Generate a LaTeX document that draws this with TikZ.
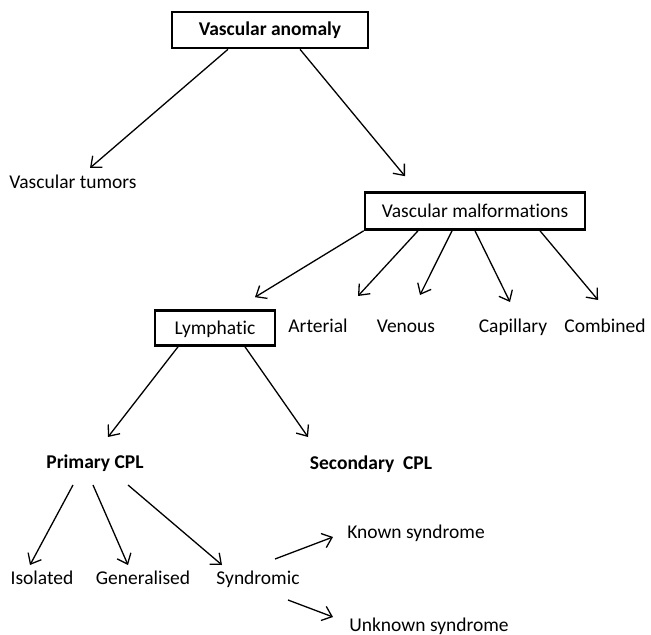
\documentclass[tikz,border=0pt]{standalone}
\usepackage{fontspec}
\setmainfont{Carlito}[Ligatures={NoCommon, NoContextual}]
\usepackage{tikz}
\usetikzlibrary{arrows.meta, positioning, calc}

\begin{document}
\begin{tikzpicture}[
    x=1bp, y=-1bp,
    every node/.style={font=\fontsize{19.5bp}{23bp}\selectfont, inner sep=0pt, text height=13bp, text depth=1bp},
    box/.style={draw, rectangle, line width=2.6bp, inner sep=0pt},
    label/.style={font=\fontsize{19.5bp}{23bp}\selectfont\bfseries},
    line/.style={draw, line width=1.3bp, -{Straight Barb[length=9bp, width=15bp, line width=1.3bp]}}
]
    \useasboundingbox (0,0) rectangle (651,635);

    % Top level
    \node[box, label, minimum width=196bp, minimum height=36bp] (anomaly) at (270,30) {Vascular anomaly};
    \node (tumors) at (73,183) {Vascular tumors};
    \node[box, minimum width=220bp, minimum height=37bp] (malform) at (475,211) {Vascular malformations};

    % Malformation types
    \node[box, minimum width=120bp, minimum height=35bp] (lymph) at (215,328) {Lymphatic};
    \node (arterial) at (318,326) {Arterial};
    \node (venous) at (406,326) {Venous};
    \node (capillary) at (513,326) {Capillary};
    \node (combined) at (605,326) {Combined};

    % CPL
    \node[label] (primary) at (95,462) {Primary CPL};
    \node[label] (secondary) at (371,463) {Secondary\ \ CPL};

    \node (isolated) at (42,578) {Isolated};
    \node (general) at (143,578) {Generalised};
    \node (syndromic) at (258,578) {Syndromic};
    \node (known) at (416,532) {Known syndrome};
    \node (unknown) at (429,625) {Unknown syndrome};

    % Arrows
    \draw[line] ([xshift=-42bp]anomaly.south) -- ([xshift=17bp, yshift=15bp]tumors.center);
    \draw[line] ([xshift=30bp]anomaly.south) -- ([xshift=-70bp, yshift=15bp]malform.north);

    \draw[line] (malform.south west) -- ([xshift=40bp, yshift=12bp]lymph.north);
    \draw[line] ([xshift=-57bp]malform.south) -- ([xshift=40bp, yshift=30bp]arterial.center);
    \draw[line] ([xshift=-23bp]malform.south) -- ([xshift=14bp, yshift=31bp]venous.center);
    \draw[line] (malform.south) -- ([xshift=-3bp, yshift=24bp]capillary.center);
    \draw[line] ([xshift=65bp]malform.south) -- ([xshift=-7bp, yshift=26bp]combined.center);

    \draw[line] ([xshift=-37bp]lymph.south) -- ([xshift=13bp, yshift=25bp]primary.center);
    \draw[line] ([xshift=30bp]lymph.south) -- ([xshift=-63bp, yshift=26bp]secondary.center);

    \draw[line] ([xshift=-22bp, yshift=-23bp]primary.center) -- ([xshift=-12bp, yshift=13bp]isolated.center);
    \draw[line] ([xshift=-2bp, yshift=-23bp]primary.center) -- ([xshift=-15bp, yshift=13bp]general.center);
    \draw[line] ([xshift=33bp, yshift=-23bp]primary.center) -- ([xshift=-36bp, yshift=13bp]syndromic.center);

    \draw[line] ([xshift=17bp, yshift=19bp]syndromic.center) -- ([xshift=-83bp, yshift=-5bp]known.center);
    \draw[line] ([xshift=30bp, yshift=-22bp]syndromic.center) -- ([xshift=-96bp, yshift=8bp]unknown.center);
\end{tikzpicture}
\end{document}
